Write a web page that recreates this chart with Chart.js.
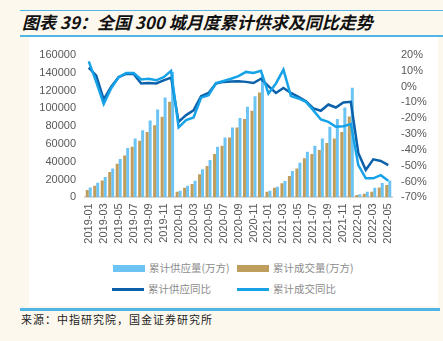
<!DOCTYPE html>
<html>
<head>
<meta charset="utf-8">
<script src="https://cdn.jsdelivr.net/npm/chart.js@4/dist/chart.umd.min.js"></script>
<style>
  html, body { margin: 0; padding: 0; }
  body { width: 443px; height: 341px; background: #fcf8ee; position: relative; overflow: hidden;
         font-family: "Liberation Sans", "Noto Sans CJK SC", sans-serif; }
  .rule { position: absolute; left: 20px; right: 0; background: #4fb4e6; }
  .title { position: absolute; left: 22px; top: 12px; font: italic bold 17px "Noto Sans CJK SC", sans-serif;
           color: #111; white-space: nowrap; line-height: 20px; }
  .panel { position: absolute; left: 29px; top: 37px; width: 409px; height: 269px; background: #fff; }
  #c { position: absolute; left: 0; top: 0; }
  .leg { position: absolute; font: 10.5px "Noto Sans CJK SC", sans-serif; color: #8c8c8c; white-space: nowrap; line-height: 14px; }
  .sw { position: absolute; }
  .src { position: absolute; left: 21px; top: 311px; font: 11px "Noto Sans CJK SC", sans-serif; color: #222;
         letter-spacing: 1px; line-height: 16px; white-space: nowrap; }
</style>
</head>
<body>
<div class="rule" style="top:10px;height:1px"></div>
<div class="title">图表 39：全国 300 城月度累计供求及同比走势</div>
<div class="rule" style="top:35px;height:1.5px"></div>
<div class="panel"></div>
<canvas id="c" width="443" height="255"></canvas>
<div id="legend"></div>
<div class="rule" style="top:308px;height:2.5px;right:3px"></div>
<div class="src">来源：中指研究院，国金证券研究所</div>
<script>
const months = [
  '2019-01','2019-02','2019-03','2019-04','2019-05','2019-06','2019-07','2019-08','2019-09','2019-10','2019-11','2019-12',
  '2020-01','2020-02','2020-03','2020-04','2020-05','2020-06','2020-07','2020-08','2020-09','2020-10','2020-11','2020-12',
  '2021-01','2021-02','2021-03','2021-04','2021-05','2021-06','2021-07','2021-08','2021-09','2021-10','2021-11','2021-12',
  '2022-01','2022-02','2022-03','2022-04','2022-05'
];
// 万方
const supply = [
  11000, 16400, 22800, 32500, 43000, 55300, 66200, 75500, 86400, 98700, 112200, 141000,
  7400, 13000, 18600, 31400, 41900, 56700, 67300, 78600, 89300, 101700, 113700, 137000,
  7400, 11900, 18300, 29500, 38800, 51200, 58000, 66200, 79200, 87900, 101000, 123200,
  3500, 6300, 10800, 16000, 18800
];
const sales = [
  8200, 13000, 19000, 28400, 37700, 47100, 56800, 63500, 73300, 81100, 90500, 107300,
  6300, 10800, 14900, 25800, 35100, 48600, 57900, 67300, 78600, 87900, 97200, 117800,
  6300, 10800, 15700, 23900, 32500, 43800, 48600, 53100, 61000, 66200, 73300, 90800,
  2600, 4000, 6300, 11000, 13800
];
// %
const supplyYoY = [
  12, 7, -8, 0, 6, 8, 8, 2, 2.3, 2, 4, 5.7,
  -22.3, -18, -15, -6, -4, 2, 3, 3.2, 3.4, 3, 2.3, 5,
  0.3, -4, -0.8, -4, -6.5, -9.2, -13.8, -15.3, -11.3, -13.2, -10, -9.6,
  -42, -52.7, -46, -47, -49.6
];
const salesYoY = [
  16, 3, -11, -1, 6, 8.6, 8.6, 4.5, 5, 4, 6, 10,
  -25.8, -21.2, -19.5, -7, -5.4, 2.3, 3.6, 5, 6.6, 9.3, 8.6, 10,
  -4.4, 2, 10.8, -6, -7.5, -9.6, -15, -20.8, -22.3, -25.4, -25, -23.7,
  -49.6, -58, -58, -56, -59.5
];

const tickFont = { family: 'Liberation Sans', size: 11 };
const tickColor = '#595959';

const chart = new Chart(document.getElementById('c'), {
  type: 'bar',
  data: {
    labels: months,
    datasets: [
      { type: 'line', label: '累计供应同比', data: supplyYoY, yAxisID: 'y1', borderColor: '#0b62ab',
        borderWidth: 2.5, pointRadius: 0, tension: 0, order: 1 },
      { type: 'line', label: '累计成交同比', data: salesYoY, yAxisID: 'y1', borderColor: '#17a2e8',
        borderWidth: 2.5, pointRadius: 0, tension: 0, order: 0 },
      { label: '累计供应量(万方)', data: supply, yAxisID: 'y', backgroundColor: '#6cc4f4',
        categoryPercentage: 0.8, barPercentage: 1.0, order: 3 },
      { label: '累计成交量(万方)', data: sales, yAxisID: 'y', backgroundColor: '#bf9d5c',
        categoryPercentage: 0.8, barPercentage: 1.0, order: 2 }
    ]
  },
  options: {
    responsive: false,
    animation: false,
    layout: { padding: { top: 55, left: 0, right: 0, bottom: 0 } },
    plugins: { legend: { display: false }, tooltip: { enabled: false } },
    scales: {
      x: {
        grid: { display: false, drawTicks: false },
        border: { color: '#d9d9d9', width: 2 },
        ticks: {
          color: tickColor, font: tickFont, autoSkip: false, minRotation: 90, maxRotation: 90, padding: 6,
          callback: (v, i) => (i % 2 === 0 ? months[i] : '')
        },
        afterFit: s => { s.height = 57.7; }
      },
      y: {
        position: 'left', min: 0, max: 160000,
        grid: { display: false, drawTicks: false },
        border: { display: false },
        ticks: { stepSize: 20000, autoSkip: false, color: tickColor, font: tickFont, padding: 9, callback: v => String(v) },
        afterFit: s => { s.width = 85; }
      },
      y1: {
        position: 'right', min: -70, max: 20,
        grid: { display: false, drawTicks: false },
        border: { display: false },
        ticks: { stepSize: 10, autoSkip: false, color: tickColor, font: tickFont, padding: 9, callback: v => v + '%' },
        afterFit: s => { s.width = 51; }
      }
    }
  }
});

// 图例：两行两列
const ds = chart.data.datasets;
const legendItems = [
  { d: ds[2], x: 113, y: 268, bar: true },
  { d: ds[3], x: 237, y: 268, bar: true },
  { d: ds[0], x: 112, y: 289.5, bar: false },
  { d: ds[1], x: 237, y: 289.5, bar: false }
];
const legend = document.getElementById('legend');
legendItems.forEach(it => {
  const sw = document.createElement('div');
  sw.className = 'sw';
  const h = it.bar ? 7 : 2.5;
  sw.style.cssText = `left:${it.x}px;top:${it.y - h / 2}px;width:32px;height:${h}px;background:${it.bar ? it.d.backgroundColor : it.d.borderColor}`;
  legend.appendChild(sw);
  const t = document.createElement('div');
  t.className = 'leg';
  t.style.left = (it.x + 36) + 'px';
  t.style.top = (it.y - 7.5) + 'px';
  t.textContent = it.d.label;
  legend.appendChild(t);
});
</script>
</body>
</html>
